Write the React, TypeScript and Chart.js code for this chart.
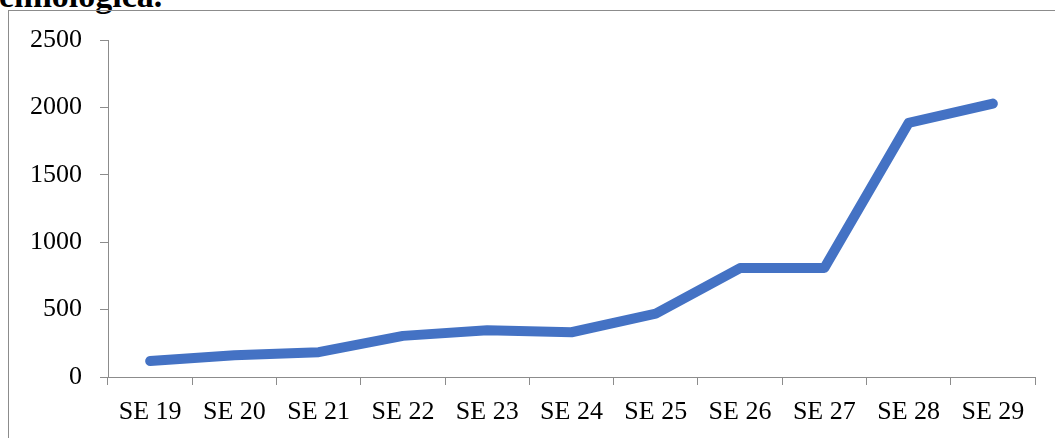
import React, { useEffect, useRef } from "react";
import { Chart, registerables } from "chart.js";

Chart.register(...registerables);

const categories = ["SE 19", "SE 20", "SE 21", "SE 22", "SE 23", "SE 24", "SE 25", "SE 26", "SE 27", "SE 28", "SE 29"];
const values = [119, 162, 184, 305, 347, 332, 470, 808, 808, 1885, 2028];
const yTicks = [0, 500, 1000, 1500, 2000, 2500];

const FONT = "'Liberation Serif', 'DejaVu Serif', serif";
const AXIS = "#8c8c8c";

export default function App() {
  const ref = useRef<HTMLCanvasElement | null>(null);

  useEffect(() => {
    if (!ref.current) return;
    const chart = new Chart(ref.current, {
      type: "line",
      data: {
        labels: categories,
        datasets: [
          {
            data: values,
            borderColor: "#4472C4",
            borderWidth: 10,
            borderCapStyle: "round",
            borderJoinStyle: "round",
            pointRadius: 0,
            fill: false,
            tension: 0,
          },
        ],
      },
      options: {
        animation: false,
        responsive: false,
        devicePixelRatio: 1,
        layout: { padding: { top: 40, right: 20, left: 0, bottom: 0 } },
        plugins: { legend: { display: false }, tooltip: { enabled: false }, title: { display: false } },
        scales: {
          x: {
            type: "category",
            offset: true,
            grid: { display: true, drawOnChartArea: false, drawTicks: true, tickLength: 8, color: AXIS, offset: true },
            border: { display: true, color: AXIS, width: 1 },
            ticks: { color: "#000", font: { family: FONT, size: 26 }, padding: 12, maxRotation: 0, autoSkip: false },
            afterFit: (s: any) => { s.height = 61; },
          },
          y: {
            min: 0,
            max: 2500,
            afterBuildTicks: (s: any) => { s.ticks = yTicks.map((v) => ({ value: v })); },
            grid: { display: true, drawOnChartArea: false, drawTicks: true, tickLength: 8, color: AXIS },
            border: { display: true, color: AXIS, width: 1 },
            ticks: {
              color: "#000",
              font: { family: FONT, size: 26 },
              padding: 18,
              callback: (v: any) => String(v),
            },
            afterFit: (s: any) => { s.width = 108; },
          },
        },
      },
    });
    return () => chart.destroy();
  }, []);

  return (
    <div style={{ position: "absolute", left: 0, top: 0, width: 1055, height: 438, overflow: "hidden", background: "#fff" }}>
      <div
        style={{
          position: "absolute",
          left: -1,
          top: -21,
          fontFamily: FONT,
          fontWeight: "bold",
          fontSize: 34,
          lineHeight: "34px",
          whiteSpace: "nowrap",
          color: "#000",
        }}
      >
        emiológica.
      </div>
      <div
        style={{
          position: "absolute",
          left: 8,
          top: 10,
          width: 1060,
          height: 440,
          border: "1px solid #8c8c8c",
          boxSizing: "border-box",
        }}
      />
      <canvas ref={ref} width={1055} height={438} style={{ position: "absolute", left: 0, top: 0 }} />
    </div>
  );
}
